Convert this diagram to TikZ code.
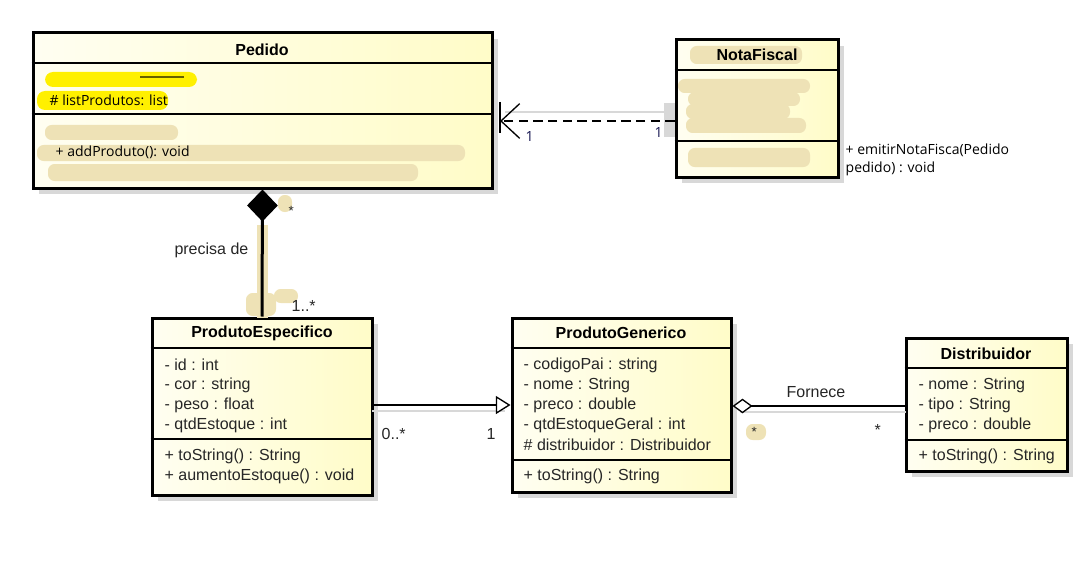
\documentclass[tikz,border=0pt]{standalone}
\usepackage{fontspec}
\setmainfont{Liberation Sans}
\newfontfamily\notefont{Open Sans}
\usetikzlibrary{arrows.meta,fit,shadows}
\definecolor{clsfill}{RGB}{255,252,200}
\definecolor{smudge}{RGB}{238,226,182}
\definecolor{marker}{RGB}{255,240,0}
\definecolor{ghost}{RGB}{216,216,216}
\definecolor{navy}{RGB}{20,20,80}
\tikzset{
every picture/.style={
line width=1pt
}}

\begin{document}
\begin{tikzpicture}[x=0.75pt, y=-0.75pt,
cls/.style = {rectangle, draw=black, line width=2.25pt, inner sep=0pt, left color=clsfill!25, right color=clsfill,
  copy shadow={shadow xshift=4.5pt, shadow yshift=-4.5pt, draw=none, fill=ghost}},
title/.style = {font=\bfseries\fontsize{12}{14}\selectfont},
attr/.style = {anchor=west, inner sep=0pt, text=black!85, font=\fontsize{12}{14}\selectfont},
note/.style = {anchor=west, inner sep=0pt, font=\notefont\fontsize{10.5}{12}\selectfont},
sep/.style = {line width=1.1pt},
blot/.style = {fill=smudge, rounded corners=5pt}]
\useasboundingbox (0,0) rectangle (1080,563);

% Pedido
\node[cls, fit={(33,33) (492,188)}] (pedido) {};
\node[title] at (262,50) (pedido-t) {Pedido};
\draw[sep] (pedido.west |- 0,63) -- (pedido.east |- 0,63);
\draw[sep] (pedido.west |- 0,114) -- (pedido.east |- 0,114);
\fill[marker, rounded corners=6pt] (45,72) rectangle (197,87);
\draw[line width=1.5pt, black!60!marker] (140,77) -- (184,77);
\fill[marker, rounded corners=6pt] (37,91) rectangle (168,110);
\node[note] at (49,100) (pedido-a1) {\# listProdutos: list};
\fill[blot] (45,125) rectangle (178,140);
\fill[blot] (37,145) rectangle (465,161);
\node[note] at (55,152) (pedido-m1) {+ addProduto(): void};
\fill[blot] (48,164) rectangle (418,181);

% NotaFiscal
\fill[ghost] (664,103) rectangle (685,137);
\draw[ghost, line width=1.5pt] (505,112) -- (664,112);
\node[cls, fit={(676,40) (838,177)}] (nota) {};
\fill[blot] (690,46) rectangle (802,64);
\node[title] at (757,55) (nota-t) {NotaFiscal};
\draw[sep] (nota.west |- 0,70) -- (nota.east |- 0,70);
\draw[sep] (nota.west |- 0,141) -- (nota.east |- 0,141);
\fill[marker] (774,79) rectangle (794,87);
\fill[blot] (678,79) rectangle (810,93);
\fill[blot] (688,92) rectangle (800,106);
\fill[blot] (686,104) rectangle (790,119);
\fill[blot] (686,118) rectangle (806,133);
\fill[blot] (688,148) rectangle (810,167);
\node[note] at (845,150) (nota-m1) {+ emitirNotaFisca(Pedido};
\node[note] at (845,169) (nota-m2) {pedido) : void};

% dependencia
\coordinate (dep-end) at (500,121);
\draw[dash pattern=on 7pt off 4pt, -{Straight Barb[length=14pt, width=26pt]}] (nota.west |- dep-end) -- (dep-end);
\draw (dep-end |- 0,102) -- (dep-end |- 0,133);
\node[note, text=navy] at (525,137) (dep-m1) {1};
\node[note, text=navy] at (654,133) (dep-m2) {1};

% ProdutoEspecifico
\node[cls, fit={(152,318) (372,495)}] (prodesp) {};
\node[title] at (262,333) (prodesp-t) {ProdutoEspecifico};
\draw[sep] (prodesp.west |- 0,348) -- (prodesp.east |- 0,348);
\draw[sep] (prodesp.west |- 0,439) -- (prodesp.east |- 0,439);
\foreach \t [count=\i] in {- id : int, - cor : string, - peso : float, - qtdEstoque : int}
  \node[attr] at (164,345+20*\i) (prodesp-a\i) {\t};
\node[attr] at (164,456) (prodesp-m1) {+ toString() : String};
\node[attr] at (164,476) (prodesp-m2) {+ aumentoEstoque() : void};

% composicao
\fill[smudge] (257,225) rectangle (268,318);
\fill[blot] (246,293) rectangle (276,316);
\fill[blot] (274,289) rectangle (298,303);
\fill[blot] (278,195) rectangle (292,212);
\draw[line width=2.25pt, {Diamond[length=24pt, width=23pt]}-] (pedido.south) -- (prodesp.north);
\node[attr, font=\fontsize{10}{11}\selectfont] at (288,211) (comp-m1) {*};
\node[attr, anchor=east] at (249,250) (comp-l) {precisa de};
\node[attr] at (291,306) (comp-m2) {1..*};

% ProdutoGenerico
\node[cls, fit={(512,318) (731,492)}] (prodgen) {};
\node[title] at (621,333) (prodgen-t) {ProdutoGenerico};
\draw[sep] (prodgen.west |- 0,348) -- (prodgen.east |- 0,348);
\draw[sep] (prodgen.west |- 0,460) -- (prodgen.east |- 0,460);
\foreach \t [count=\i] in {- codigoPai : string, - nome : String, - preco : double, - qtdEstoqueGeral : int, \# distribuidor : Distribuidor}
  \node[attr] at (523,345+20*\i) (prodgen-a\i) {\t};
\node[attr] at (523,476) (prodgen-m1) {+ toString() : String};

% heranca
\draw[ghost, line width=1.2pt] (372,411) -- (505,411);
\draw[-{Triangle[length=11pt, width=13.5pt, fill=white]}] (prodesp.east |- 0,405) -- (prodgen.west |- 0,405);
\node[attr] at (381,434) (her-m1) {0..*};
\node[attr] at (486,434) (her-m2) {1};

% Distribuidor
\node[cls, fit={(906,338) (1067,471)}] (dist) {};
\node[title] at (986,354) (dist-t) {Distribuidor};
\draw[sep] (dist.west |- 0,368) -- (dist.east |- 0,368);
\draw[sep] (dist.west |- 0,440) -- (dist.east |- 0,440);
\foreach \t [count=\i] in {- nome : String, - tipo : String, - preco : double}
  \node[attr] at (918,365+20*\i) (dist-a\i) {\t};
\node[attr] at (918,456) (dist-m1) {+ toString() : String};

% agregacao
\draw[ghost, line width=1.2pt] (740,412) -- (906,412);
\draw[{Diamond[length=15pt, width=11pt, fill=white]}-] (prodgen.east |- 0,406) -- (dist.west |- 0,406);
\node[attr, anchor=center] at (816,392) (agr-l) {Fornece};
\fill[blot] (746,424) rectangle (766,440);
\node[attr, font=\fontsize{10}{11}\selectfont] at (751,432) (agr-m1) {*};
\node[attr] at (874,430) (agr-m2) {*};
\end{tikzpicture}
\end{document}
